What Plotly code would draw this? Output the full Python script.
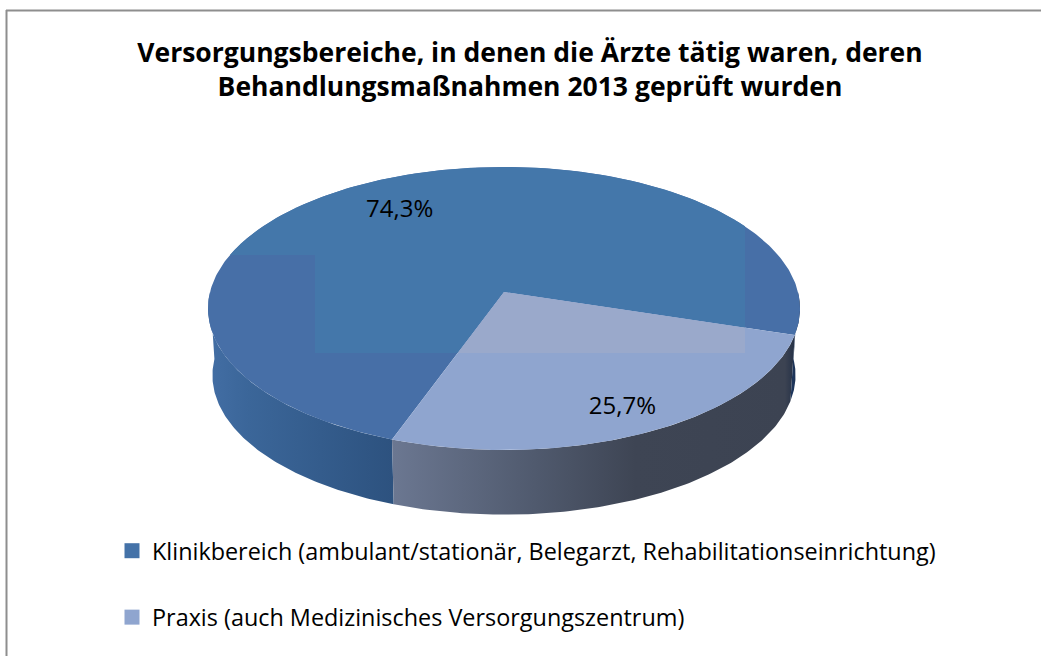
import numpy as np
import plotly.graph_objects as go

# ---- data ----
categories = ["Klinikbereich (ambulant/stationär, Belegarzt, Rehabilitationseinrichtung)",
              "Praxis (auch Medizinisches Versorgungszentrum)"]
values = [74.3, 25.7]
value_labels = ["74,3%", "25,7%"]
title_lines = ["Versorgungsbereiche, in denen die Ärzte tätig waren, deren",
               "Behandlungsmaßnahmen 2013 geprüft wurden"]

# ---- style / projection ----
W, H = 1041, 656
FONT = "Open Sans"
CX, CY, RX, RY, K = 504.0, 292.0, 294.0, 139.6, 0.1166
DEPTH, BOTTOM_SCALE = 67.0, 0.985
START_ANGLE = 17.3
top_dark = ["#476fa7", "#8fa5cf"]
top_light = ["#4477aa", "#9aa9cb"]
legend_colors = ["#4472a8", "#8fa5cf"]
light_rects = [(0, 745, 0, 255), (315, 745, 255, 353)]
label_radius = [0.73, 0.84]
label_angle_shift = [-5.0, 0.5]


def project(theta_deg, r=1.0):
    t = np.radians(theta_deg)
    u, v = r * np.cos(t), r * np.sin(t)
    d = 1 - K * v
    return CX + RX * u / d, CY + RY * v / d


def clip(poly, rect):
    x0, x1, y0, y1 = rect
    tests = [(0, x0, 1), (0, x1, -1), (1, y0, 1), (1, y1, -1)]
    for axis, lim, sign in tests:
        out = []
        for i in range(len(poly)):
            a, b = poly[i - 1], poly[i]
            ina = sign * (a[axis] - lim) >= 0
            inb = sign * (b[axis] - lim) >= 0
            if ina != inb:
                s = (lim - a[axis]) / (b[axis] - a[axis])
                out.append((a[0] + s * (b[0] - a[0]), a[1] + s * (b[1] - a[1])))
            if inb:
                out.append(b)
        poly = out
        if not poly:
            break
    return poly


def poly_trace(xs, ys, color):
    return go.Scatter(x=list(xs), y=list(ys), mode="lines", fill="toself", fillcolor=color,
                      line=dict(width=0, color=color), hoverinfo="skip", showlegend=False)


def side_trace(a0, a1, stops, x0, x1):
    ang = np.linspace(a0, a1, 120)
    tx, ty = project(ang)
    bx = CX + (tx - CX) * BOTTOM_SCALE
    by = CY + (ty - CY) * BOTTOM_SCALE + DEPTH
    xs = np.concatenate([tx, bx[::-1], tx[:1]])
    ys = np.concatenate([ty, by[::-1], ty[:1]])
    return go.Scatter(x=xs.tolist(), y=ys.tolist(), mode="lines", fill="toself",
                      fillgradient=dict(type="horizontal", colorscale=stops, start=x0, stop=x1),
                      line=dict(width=0), hoverinfo="skip", showlegend=False)


sweeps = [v / sum(values) * 360 for v in values]
praxis_a0 = START_ANGLE
praxis_a1 = praxis_a0 + sweeps[1]
klinik_a0 = praxis_a1
klinik_a1 = klinik_a0 + sweeps[0]
spans = [(klinik_a0, klinik_a1), (praxis_a0, praxis_a1)]

fig = go.Figure()

# side walls (visible front half only)
fig.add_trace(side_trace(klinik_a0, 180, [[0, "#426da3"], [0.2, "#3b6699"], [1, "#2d527f"]], 212, 393))
fig.add_trace(side_trace(0, praxis_a0, [[0, "#1e3a66"], [1, "#1c3050"]], 785, 800))
fig.add_trace(side_trace(praxis_a0, praxis_a1,
                         [[0, "#6b7791"], [0.35, "#505a6e"], [0.6, "#3e4554"], [0.97, "#3c4352"], [1, "#1f2c44"]],
                         393, 797))

# top faces
for i, (a0, a1) in enumerate(spans):
    ang = np.linspace(a0, a1, 300)
    x, y = project(ang)
    poly = [(CX, CY)] + list(zip(x.tolist(), y.tolist()))
    xs, ys = zip(*(poly + poly[:1]))
    fig.add_trace(poly_trace(xs, ys, top_dark[i]))
    for rect in light_rects:
        part = clip(poly, rect)
        if part:
            px, py = zip(*(part + part[:1]))
            fig.add_trace(poly_trace(px, py, top_light[i]))

# value labels
lx, ly = [], []
for i, (a0, a1) in enumerate(spans):
    px, py = project((a0 + a1) / 2 + label_angle_shift[i], label_radius[i])
    lx.append(float(px))
    ly.append(float(py))
fig.add_trace(go.Scatter(x=lx, y=ly, mode="text", text=value_labels,
                         textfont=dict(family=FONT, size=24, color="#000000"),
                         textposition="middle center", hoverinfo="skip", showlegend=False))

# legend entries
for i, name in enumerate(categories):
    fig.add_trace(go.Scatter(x=[None], y=[None], mode="markers", name=name, legendgroup=f"g{i}",
                             marker=dict(symbol="square", size=15, color=legend_colors[i])))

fig.update_layout(
    width=W, height=H, autosize=False,
    margin=dict(l=0, r=0, t=0, b=0),
    paper_bgcolor="white", plot_bgcolor="white",
    xaxis=dict(range=[0, W], visible=False, fixedrange=True),
    yaxis=dict(range=[H, 0], visible=False, fixedrange=True),
    title=dict(text="<br>".join(title_lines), x=530 / W, xanchor="center", y=1 - 62 / H, yanchor="top",
               font=dict(family=FONT, size=26.5, color="#000000", weight=700)),
    legend=dict(x=112 / W, xanchor="left", y=1 - 529 / H, yanchor="top", tracegroupgap=33,
                bgcolor="rgba(0,0,0,0)", font=dict(family=FONT, size=23.4, color="#000000")),
    shapes=[
        dict(type="line", xref="x", yref="y", x0=6, x1=W, y0=10.5, y1=10.5, line=dict(color="#8e8e8e", width=2)),
        dict(type="line", xref="x", yref="y", x0=6.5, x1=6.5, y0=10, y1=H, line=dict(color="#8e8e8e", width=2)),
    ],
)

fig.write_html("out.html", post_script="document.body.style.margin='0';", config={"displayModeBar": False})
